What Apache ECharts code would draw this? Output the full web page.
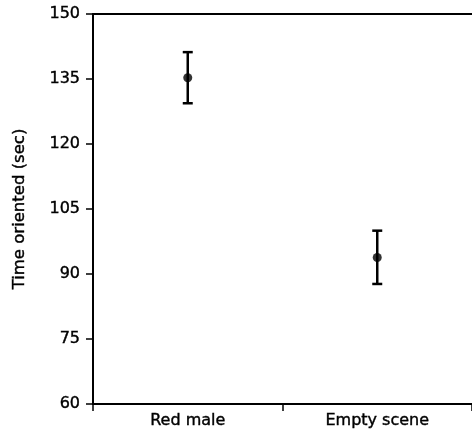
<!DOCTYPE html>
<html>
<head>
<meta charset="utf-8">
<script src="https://cdn.jsdelivr.net/npm/echarts@6/dist/echarts.min.js"></script>
<style>
  html, body { margin: 0; padding: 0; background: #fff; }
  #div-chart { width: 472px; height: 434px; }
</style>
</head>
<body>
<div id="div-chart"></div>
<script>
var categories = ['Red male', 'Empty scene'];
var means = [135.3, 93.8];
var lows = [129.4, 87.7];
var highs = [141.2, 100.0];
var yTicks = [60, 75, 90, 105, 120, 135, 150];

var myChart = echarts.init(document.getElementById('div-chart'));

var font = 'DejaVu Sans';
// slight outline so text looks as dark as the printed original
var ink = {color: '#000', fontFamily: font, textBorderColor: '#000', textBorderWidth: 0.4};

option = {
    animation: false,
    grid: {left: 93, right: 0, top: 14, bottom: 30},
    xAxis: [
        {
            type: 'category',
            data: categories,
            axisLine: {lineStyle: {color: '#000', width: 2}},
            axisTick: {show: true, length: 7, lineStyle: {color: '#000', width: 1.5}},
            axisLabel: Object.assign({fontSize: 16, margin: 9}, ink)
        },
        {
            // top frame line
            type: 'category',
            data: categories,
            position: 'top',
            axisLine: {lineStyle: {color: '#000', width: 2}},
            axisTick: {show: false},
            axisLabel: {show: false}
        }
    ],
    yAxis: {
        type: 'value',
        min: yTicks[0],
        max: yTicks[yTicks.length - 1],
        interval: 15,
        name: 'Time oriented (sec)',
        nameLocation: 'middle',
        nameGap: 65,
        nameTextStyle: Object.assign({fontSize: 16.5}, ink),
        axisLine: {show: true, lineStyle: {color: '#000', width: 2}},
        axisTick: {show: true, length: 7, lineStyle: {color: '#000', width: 1.5}},
        axisLabel: Object.assign({fontSize: 16, margin: 13}, ink),
        splitLine: {show: false}
    },
    series: [
        {
            // error bars
            type: 'custom',
            data: categories.map(function (c, i) { return [i, lows[i], highs[i]]; }),
            renderItem: function (params, api) {
                var lo = api.coord([api.value(0), api.value(1)]);
                var hi = api.coord([api.value(0), api.value(2)]);
                var half = 5;
                var style = {stroke: '#000', lineWidth: 2.5};
                return {
                    type: 'group',
                    children: [
                        {type: 'line', shape: {x1: hi[0], y1: hi[1], x2: lo[0], y2: lo[1]}, style: style},
                        {type: 'line', shape: {x1: hi[0] - half, y1: hi[1], x2: hi[0] + half, y2: hi[1]}, style: style},
                        {type: 'line', shape: {x1: lo[0] - half, y1: lo[1], x2: lo[0] + half, y2: lo[1]}, style: style}
                    ]
                };
            },
            z: 2
        },
        {
            type: 'scatter',
            data: means,
            symbol: 'circle',
            symbolSize: 9,
            itemStyle: {color: '#000'},
            z: 3
        }
    ]
};

myChart.setOption(option);
</script>
</body>
</html>
